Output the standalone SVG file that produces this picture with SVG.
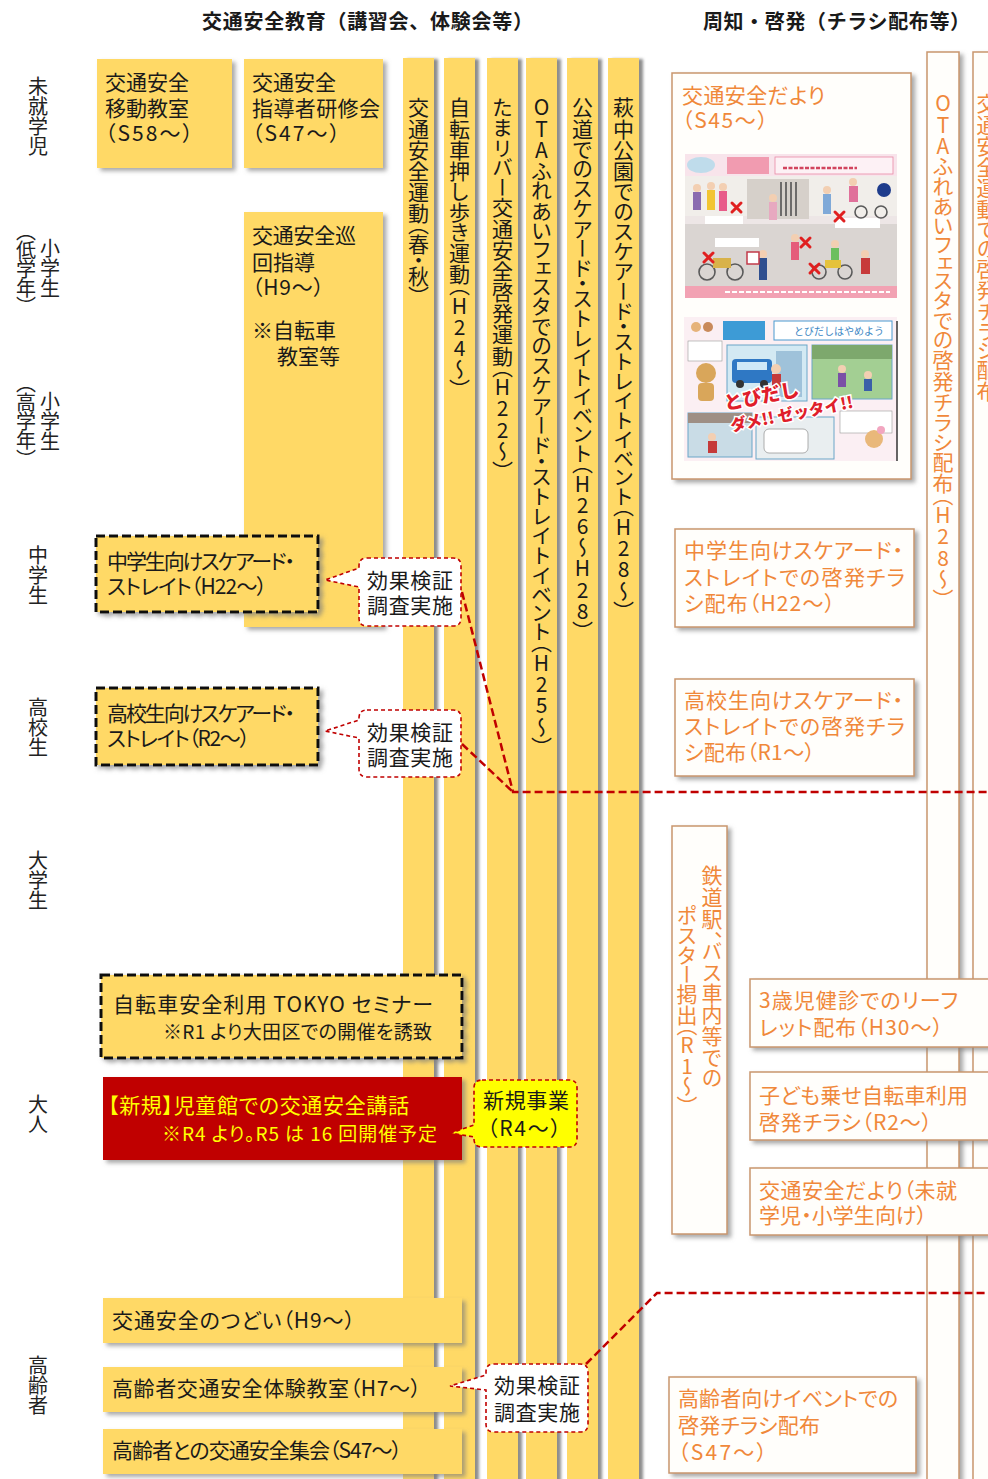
<svg xmlns="http://www.w3.org/2000/svg" width="988" height="1479" viewBox="0 0 988 1479">
<defs>
  <filter id="shadow" x="-40%" y="-20%" width="180%" height="140%">
    <feDropShadow dx="3.5" dy="3" stdDeviation="2" flood-color="#7a7a7a" flood-opacity="0.65"/>
  </filter>
  <filter id="barshadow" x="-50%" y="-5%" width="200%" height="110%">
    <feDropShadow dx="4" dy="1" stdDeviation="1.6" flood-color="#6f6f6f" flood-opacity="0.8"/>
  </filter>
  <style>
    .t { font-family: "Noto Sans CJK JP", "Noto Sans", sans-serif; font-size: 21px; fill: #1a1a1a; font-feature-settings: "palt"; }
    .h { font-weight: 700; font-size: 20px; font-feature-settings: normal; }
    .lab { font-size: 20px; fill: #222; }
    .o { fill: #F0883A; }
    .y { fill: #FFFF00; }
    .v { writing-mode: vertical-rl; text-orientation: upright; font-feature-settings: "vpal"; }
    .box { fill: #FFD966; filter: url(#shadow); }
    .bar { fill: #FFD966; filter: url(#barshadow); }
    .dash { fill: #FFD966; stroke: #111; stroke-width: 3; stroke-dasharray: 9 4; filter: url(#shadow); }
    .red { fill: #C00000; filter: url(#shadow); }
    .callout { fill: #fff; stroke: #C00000; stroke-width: 1.6; stroke-dasharray: 4 3; }
    .callout-y { fill: #FFFF00; stroke: #C00000; stroke-width: 1.6; stroke-dasharray: 4 3; }
    .paper { fill: #FFFEFB; stroke: #C9966E; stroke-width: 1.5; filter: url(#shadow); }
    .conn { fill: none; stroke: #C00000; stroke-width: 2.5; stroke-dasharray: 8 4; }
    .x { stroke: #E02020; stroke-width: 3; stroke-linecap: round; }
  </style>
</defs>

<rect width="988" height="1479" fill="#ffffff"/>

<!-- column headings -->
<g id="headings">
  <text class="t h" x="202" y="29" textLength="331">交通安全教育（講習会、体験会等）</text>
  <text class="t h" x="703" y="29" textLength="267">周知・啓発（チラシ配布等）</text>
</g>

<!-- age group labels -->
<g id="age-labels">
  <text class="t lab v" x="38" y="76">未就学児</text>
  <text class="t lab v" x="50" y="238">小学生</text>
  <text class="t lab v" x="26" y="231" textLength="76">（低学年）</text>
  <text class="t lab v" x="50" y="391">小学生</text>
  <text class="t lab v" x="26" y="383" textLength="77">（高学年）</text>
  <text class="t lab v" x="38" y="545">中学生</text>
  <text class="t lab v" x="38" y="697">高校生</text>
  <text class="t lab v" x="38" y="850">大学生</text>
  <text class="t lab v" x="38" y="1094">大人</text>
  <text class="t lab v" x="38" y="1355">高齢者</text>
</g>

<!-- long-running campaigns (vertical bars) -->
<g id="bar-undou">
  <rect class="bar" x="403" y="58" width="31" height="1430"/>
  <text class="t v" x="418.5" y="97" textLength="200">交通安全運動（春・秋）</text>
</g>
<g id="bar-oshiaruki">
  <rect class="bar" x="444" y="58" width="31" height="1430"/>
  <text class="t v" x="459.5" y="97" textLength="293">自転車押し歩き運動（H24～）</text>
</g>
<g id="bar-tamariver">
  <rect class="bar" x="487" y="58" width="31" height="1430"/>
  <text class="t v" x="502.5" y="97" textLength="375">たまリバー交通安全啓発運動（H22～）</text>
</g>
<g id="bar-ota-festa">
  <rect class="bar" x="526" y="58" width="31" height="1430"/>
  <text class="t v" x="541.5" y="97" textLength="651">OTAふれあいフェスタでのスケアード・ストレイトイベント（H25～）</text>
</g>
<g id="bar-koudou">
  <rect class="bar" x="567" y="58" width="31" height="1430"/>
  <text class="t v" x="582.5" y="97" textLength="535">公道でのスケアード・ストレイトイベント（H26～H28）</text>
</g>
<g id="bar-haginaka">
  <rect class="bar" x="608" y="58" width="31" height="1430"/>
  <text class="t v" x="623.5" y="97" textLength="515">萩中公園でのスケアード・ストレイトイベント（H28～）</text>
</g>

<!-- education programmes -->
<g id="n-idou">
  <rect class="box" x="97" y="59" width="135" height="109"/>
  <text class="t" x="105" y="90">交通安全</text>
  <text class="t" x="105" y="116">移動教室</text>
  <text class="t" x="105" y="141" textLength="88">（S58～）</text>
</g>
<g id="n-shidousha">
  <rect class="box" x="244" y="59" width="139" height="109"/>
  <text class="t" x="252" y="90">交通安全</text>
  <text class="t" x="252" y="116" textLength="128">指導者研修会</text>
  <text class="t" x="252" y="141" textLength="88">（S47～）</text>
</g>
<g id="n-junkai">
  <rect class="box" x="244" y="212" width="139" height="415"/>
  <text class="t" x="252" y="243" textLength="104">交通安全巡</text>
  <text class="t" x="252" y="270">回指導</text>
  <text class="t" x="252" y="295" textLength="72">（H9～）</text>
  <text class="t" x="252" y="338">※自転車</text>
  <text class="t" x="277" y="364">教室等</text>
</g>
<g id="n-chugaku-ss">
  <rect class="dash" x="96" y="536" width="222" height="76"/>
  <text class="t" x="107" y="569" textLength="188">中学生向けスケアード・</text>
  <text class="t" x="107" y="594" textLength="160">ストレイト（H22～）</text>
</g>
<g id="n-koukou-ss">
  <rect class="dash" x="96" y="688" width="222" height="77"/>
  <text class="t" x="107" y="721" textLength="188">高校生向けスケアード・</text>
  <text class="t" x="107" y="746" textLength="143">ストレイト（R2～）</text>
</g>
<g id="n-tokyo-seminar">
  <rect class="dash" x="101" y="975" width="361" height="83"/>
  <text class="t" x="113" y="1012" font-size="22" textLength="320">自転車安全利用 TOKYO セミナー</text>
  <text class="t" x="163" y="1039" style="font-size:19px" textLength="269">※R1 より大田区での開催を誘致</text>
</g>
<g id="n-jidoukan">
  <rect class="red" x="103" y="1077" width="359" height="83"/>
  <text class="t y" x="108" y="1113" textLength="301">【新規】児童館での交通安全講話</text>
  <text class="t y" x="162" y="1141" style="font-size:19px" textLength="275">※R4 より。R5 は 16 回開催予定</text>
</g>
<g id="n-tsudoi">
  <rect class="box" x="103" y="1298" width="359" height="45"/>
  <text class="t" x="112" y="1328" textLength="243">交通安全のつどい（H9～）</text>
</g>
<g id="n-koureisha-taiken">
  <rect class="box" x="103" y="1367" width="359" height="45"/>
  <text class="t" x="112" y="1396" textLength="309">高齢者交通安全体験教室（H7～）</text>
</g>
<g id="n-koureisha-shukai">
  <rect class="box" x="103" y="1429" width="359" height="45"/>
  <text class="t" x="112" y="1458" textLength="290">高齢者との交通安全集会（S47～）</text>
</g>

<!-- awareness / leaflet side -->
<g id="n-ota-festa-leaflet">
  <rect class="paper" x="927" y="52" width="32" height="1440"/>
  <text class="t o v" x="943" y="93" textLength="507">OTAふれあいフェスタでの啓発チラシ配布（H28～）</text>
</g>
<g id="n-undou-leaflet">
  <rect class="paper" x="973" y="52" width="40" height="1440"/>
  <text class="t o v" x="987" y="93" textLength="309">交通安全運動での啓発チラシ配布</text>
</g>

<g id="n-dayori">
  <rect class="paper" x="672" y="73" width="239" height="406"/>
  <text class="t o" x="682" y="103" textLength="143">交通安全だより</text>
  <text class="t o" x="682" y="128" textLength="86">（S45～）</text>
  <!-- leaflet page: bicycle with child seat -->
  <g transform="translate(685,154)">
    <rect width="212" height="144" fill="#EDE6E6"/>
    <rect width="212" height="22" fill="#F8E4EB"/>
    <ellipse cx="16" cy="11" rx="14" ry="8" fill="#BFDCEB"/>
    <rect x="42" y="3" width="42" height="17" fill="#F19BB0"/>
    <rect x="90" y="3" width="118" height="17" fill="#FDF1F5" stroke="#E98AA5" stroke-width="0.8"/>
    <line x1="98" y1="14" x2="172" y2="14" stroke="#D2445E" stroke-width="2.5" stroke-dasharray="4 1.5"/>
    <rect x="0" y="22" width="212" height="40" fill="#F1EEEA"/>
    <rect x="62" y="25" width="62" height="40" fill="#D6D0CA"/>
    <g stroke="#4a4a4a" stroke-width="1.5">
      <line x1="96" y1="28" x2="96" y2="62"/><line x1="101" y1="28" x2="101" y2="62"/>
      <line x1="106" y1="28" x2="106" y2="62"/><line x1="111" y1="28" x2="111" y2="62"/>
    </g>
    <rect x="0" y="70" width="212" height="62" fill="#DAD5D2"/>
    <rect x="20" y="62" width="38" height="8" fill="#fff"/>
    <rect x="150" y="64" width="45" height="10" fill="#fff"/>
    <rect x="30" y="84" width="44" height="9" fill="#fff"/>
    <!-- people -->
    <g>
      <circle cx="12" cy="34" r="4" fill="#F3CFB2"/><rect x="8" y="38" width="8" height="18" fill="#8A6BB0"/>
      <circle cx="26" cy="32" r="4" fill="#F3CFB2"/><rect x="22" y="36" width="8" height="20" fill="#F2C533"/>
      <circle cx="38" cy="33" r="4" fill="#F3CFB2"/><rect x="34" y="37" width="8" height="20" fill="#E85C8A"/>
      <circle cx="88" cy="44" r="4" fill="#F3CFB2"/><rect x="84" y="48" width="8" height="18" fill="#E7A9C0"/>
      <circle cx="142" cy="36" r="4" fill="#F3CFB2"/><rect x="138" y="40" width="8" height="20" fill="#7FA9D8"/>
      <circle cx="168" cy="28" r="4" fill="#F3CFB2"/><rect x="164" y="32" width="9" height="16" fill="#E0709A"/>
      <circle cx="110" cy="84" r="4" fill="#F3CFB2"/><rect x="106" y="88" width="8" height="18" fill="#E55C7A"/>
      <circle cx="150" cy="90" r="4" fill="#F3CFB2"/><rect x="146" y="94" width="8" height="16" fill="#6BBF5E"/>
      <circle cx="78" cy="100" r="4" fill="#F3CFB2"/><rect x="74" y="104" width="8" height="22" fill="#2F4F8F"/>
      <circle cx="180" cy="100" r="4" fill="#F3CFB2"/><rect x="176" y="104" width="9" height="16" fill="#C73A3A"/>
    </g>
    <!-- bicycles -->
    <g fill="none" stroke="#5a5a5a" stroke-width="1.6">
      <circle cx="22" cy="118" r="8"/><circle cx="50" cy="118" r="8"/>
      <circle cx="134" cy="118" r="7"/><circle cx="160" cy="118" r="7"/>
      <circle cx="176" cy="58" r="6"/><circle cx="196" cy="58" r="6"/>
    </g>
    <rect x="28" y="104" width="18" height="10" fill="#D8B24A"/>
    <rect x="140" y="106" width="16" height="8" fill="#E5C23B"/>
    <rect x="62" y="98" width="12" height="12" fill="#fff" stroke="#C23A4A" stroke-width="1.5"/>
    <circle cx="199" cy="36" r="7" fill="#1E3C8C"/>
    <!-- crosses -->
    <g class="x">
      <path d="M47,49 l9,9 M56,49 l-9,9"/>
      <path d="M150,58 l9,9 M159,58 l-9,9"/>
      <path d="M116,84 l9,9 M125,84 l-9,9"/>
      <path d="M19,99 l9,9 M28,99 l-9,9"/>
      <path d="M125,110 l9,9 M134,110 l-9,9"/>
    </g>
    <rect x="0" y="132" width="212" height="12" fill="#F2A2B3"/>
    <line x1="40" y1="138" x2="205" y2="138" stroke="#fff" stroke-width="2" stroke-dasharray="5 2"/>
  </g>
  <!-- leaflet page: no running out -->
  <g transform="translate(684,317)">
    <rect width="213" height="144" fill="#FBEFF3"/>
    <line x1="213" y1="4" x2="213" y2="144" stroke="#333" stroke-width="1.5"/>
    <circle cx="12" cy="10" r="5" fill="#E6B37A"/><circle cx="24" cy="10" r="5" fill="#C98A5A"/>
    <rect x="39" y="4" width="42" height="19" fill="#3D9BD6"/>
    <rect x="90" y="4" width="118" height="19" fill="#fff" stroke="#4A9AD0" stroke-width="1"/>
    <text x="110" y="18" style="font-family:'Noto Sans CJK JP',sans-serif;font-size:10px;fill:#3B86C4">とびだしはやめよう</text>
    <rect x="43" y="28" width="80" height="56" fill="#D3E9F3" stroke="#6AA6C8" stroke-width="1"/>
    <rect x="48" y="42" width="40" height="24" rx="4" fill="#2F78C4"/>
    <rect x="53" y="45" width="30" height="8" fill="#CFE8F7"/>
    <circle cx="56" cy="67" r="4" fill="#333"/><circle cx="80" cy="67" r="4" fill="#333"/>
    <rect x="92" y="34" width="26" height="46" fill="#9FC2DA"/>
    <circle cx="92" cy="52" r="5" fill="#F3CFB2"/><rect x="88" y="57" width="9" height="14" fill="#C53A3A"/>
    <rect x="128" y="28" width="80" height="54" fill="#A3CF93" stroke="#6AA6C8" stroke-width="1"/>
    <rect x="128" y="28" width="80" height="14" fill="#7DA86D"/>
    <circle cx="158" cy="52" r="4" fill="#F3CFB2"/><rect x="154" y="56" width="8" height="14" fill="#7B4FA6"/>
    <circle cx="184" cy="58" r="4" fill="#F3CFB2"/><rect x="180" y="62" width="8" height="12" fill="#3B5FA8"/>
    <circle cx="22" cy="56" r="10" fill="#D9A65A"/><rect x="14" y="66" width="16" height="18" rx="4" fill="#D9A65A"/>
    <rect x="4" y="24" width="34" height="20" fill="#fff" stroke="#999" stroke-width="0.6"/>
    <rect x="4" y="96" width="64" height="44" fill="#C9DCE6" stroke="#6AA6C8" stroke-width="1"/>
    <rect x="4" y="96" width="64" height="10" fill="#9E8F85"/>
    <circle cx="28" cy="120" r="4" fill="#F3CFB2"/><rect x="24" y="124" width="9" height="12" fill="#C53A3A"/>
    <rect x="72" y="100" width="78" height="42" fill="#E9EEF0" stroke="#6AA6C8" stroke-width="1"/>
    <rect x="80" y="112" width="44" height="24" rx="5" fill="#fff" stroke="#999" stroke-width="0.8"/>
    <rect x="156" y="94" width="52" height="22" fill="#fff" stroke="#999" stroke-width="0.6"/>
    <circle cx="190" cy="122" r="9" fill="#E9B87A"/><circle cx="197" cy="113" r="4" fill="#F2A6C0"/>
    <g transform="rotate(-11 100 90)" style="font-family:'Noto Sans CJK JP',sans-serif;font-weight:900;fill:#E01E2B;stroke:#fff;stroke-width:3;paint-order:stroke">
      <text x="42" y="82" style="font-size:19px">とびだし</text>
      <text x="44" y="104" style="font-size:16px">ダメ!! ゼッタイ!!</text>
    </g>
  </g>
</g>

<g id="n-chugaku-leaflet">
  <rect class="paper" x="675" y="529" width="239" height="98"/>
  <text class="t o" x="684" y="558" textLength="219">中学生向けスケアード・</text>
  <text class="t o" x="684" y="585" textLength="221">ストレイトでの啓発チラ</text>
  <text class="t o" x="684" y="611" textLength="151">シ配布（H22～）</text>
</g>
<g id="n-koukou-leaflet">
  <rect class="paper" x="675" y="679" width="239" height="97"/>
  <text class="t o" x="684" y="708" textLength="219">高校生向けスケアード・</text>
  <text class="t o" x="684" y="734" textLength="221">ストレイトでの啓発チラ</text>
  <text class="t o" x="684" y="760" textLength="131">シ配布（R1～）</text>
</g>
<g id="n-poster">
  <rect class="paper" x="672" y="826" width="55" height="408"/>
  <text class="t o v" x="712" y="865" textLength="222">鉄道駅、バス車内等での</text>
  <text class="t o v" x="687" y="905" textLength="202">ポスター掲出（R1～）</text>
</g>
<g id="n-kenshin">
  <rect class="paper" x="750" y="979" width="250" height="68"/>
  <text class="t o" x="759" y="1008" textLength="199">3歳児健診でのリーフ</text>
  <text class="t o" x="759" y="1035" textLength="184">レット配布（H30～）</text>
</g>
<g id="n-kodomo-nose">
  <rect class="paper" x="750" y="1072" width="250" height="68"/>
  <text class="t o" x="759" y="1103" textLength="209">子ども乗せ自転車利用</text>
  <text class="t o" x="759" y="1130" textLength="173">啓発チラシ（R2～）</text>
</g>
<g id="n-dayori-kids">
  <rect class="paper" x="750" y="1168" width="250" height="67"/>
  <text class="t o" x="759" y="1198" textLength="198">交通安全だより（未就</text>
  <text class="t o" x="759" y="1223" textLength="168">学児・小学生向け）</text>
</g>
<g id="n-koureisha-leaflet">
  <rect class="paper" x="669" y="1377" width="247" height="96"/>
  <text class="t o" x="678" y="1406" textLength="220">高齢者向けイベントでの</text>
  <text class="t o" x="678" y="1433" textLength="142">啓発チラシ配布</text>
  <text class="t o" x="678" y="1460" textLength="89">（S47～）</text>
</g>

<!-- call-outs -->
<g id="c-kenshou-chugaku">
  <path class="callout" d="M367,558 H453 Q461,558 461,566 V618 Q461,626 453,626 H367 Q359,626 359,618 V587 L325,580 L359,568 V566 Q359,558 367,558 Z"/>
  <text class="t" x="367" y="588" textLength="86">効果検証</text>
  <text class="t" x="367" y="613" textLength="86">調査実施</text>
</g>
<g id="c-kenshou-koukou">
  <path class="callout" d="M367,710 H453 Q461,710 461,718 V769 Q461,777 453,777 H367 Q359,777 359,769 V738 L325,731 L359,720 V718 Q359,710 367,710 Z"/>
  <text class="t" x="367" y="740" textLength="86">効果検証</text>
  <text class="t" x="367" y="765" textLength="86">調査実施</text>
</g>
<g id="c-shinki">
  <path class="callout-y" d="M482,1080 H569 Q577,1080 577,1088 V1139 Q577,1147 569,1147 H482 Q474,1147 474,1139 V1137 L451,1133 L474,1125 V1088 Q474,1080 482,1080 Z"/>
  <text class="t" x="483" y="1108" textLength="86">新規事業</text>
  <text class="t" x="487" y="1136" textLength="74">（R4～）</text>
</g>
<g id="c-kenshou-koureisha">
  <path class="callout" d="M494,1364 H580 Q588,1364 588,1372 V1424 Q588,1432 580,1432 H494 Q486,1432 486,1424 V1390 L450,1386 L486,1375 V1372 Q486,1364 494,1364 Z"/>
  <text class="t" x="494" y="1393" textLength="86">効果検証</text>
  <text class="t" x="494" y="1420" textLength="86">調査実施</text>
</g>

<!-- connectors -->
<g id="connectors">
  <path class="conn" d="M462,592 L513,792 L988,792"/>
  <path class="conn" d="M462,744 L513,792"/>
  <path class="conn" d="M586,1364 L657,1293 L988,1293"/>
</g>
</svg>
